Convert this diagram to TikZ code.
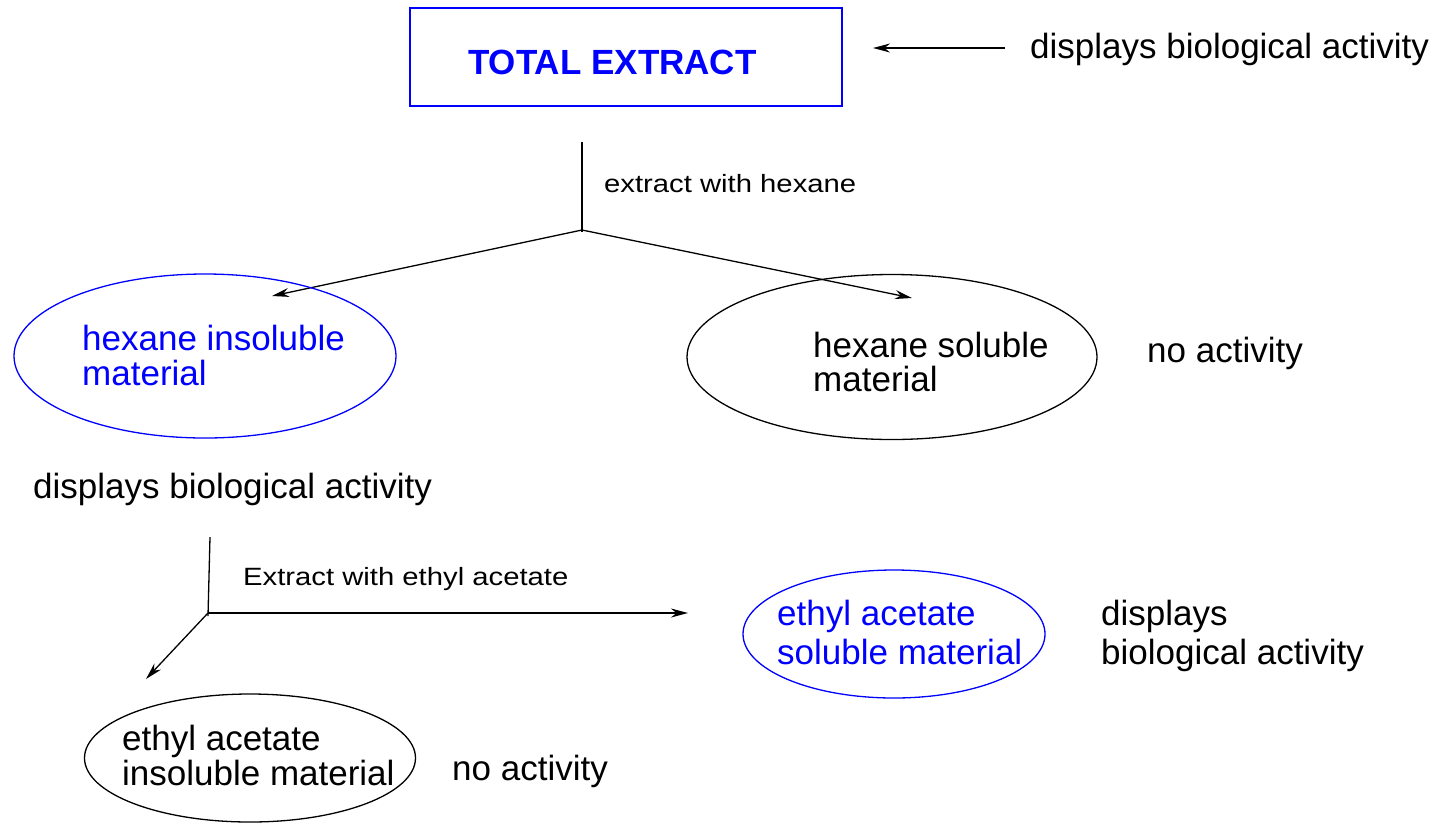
\documentclass[tikz,border=0pt]{standalone}
\usepackage{fontspec}
\setmainfont{Liberation Sans}
\usepackage{graphicx}
\usetikzlibrary{arrows.meta,shapes.geometric}
\begin{document}
\begin{tikzpicture}[x=1pt,y=-1pt,
  txt/.style={font=\fontsize{35}{40}\selectfont, inner sep=0pt, anchor=base west},
  lbl/.style={font=\fontsize{25}{28}\selectfont, inner sep=0pt, anchor=base west},
  conn/.style={line width=1.3pt, draw=black},
  arr/.style={conn, -{Stealth[length=17pt,width=9pt]}},
  ell/.style={ellipse, draw, line width=1.3pt, inner sep=0pt},
  blueell/.style={ell, draw=blue},
]
\useasboundingbox (0,0) rectangle (1439,823);
% top box
\node[draw=blue, line width=2pt, minimum width=432pt, minimum height=98pt, inner sep=0pt] (total) at (626,57) {};
\node[txt, text=blue, font=\fontsize{35}{40}\selectfont\bfseries] (totaltxt) at (468,74) {TOTAL EXTRACT};
\coordinate (toparrstart) at (1005,48);
\coordinate (toparrend) at (873,48);
\draw[arr] (toparrstart) -- (toparrend);
\node[txt] (topact) at (1030,58) {displays biological activity};
% first extraction
\coordinate (v1top) at (582,142);
\coordinate (v1) at (582,232);
\draw[conn] (v1top) -- (v1);
\node[lbl] (hexlbl) at (604,192) {\scalebox{1.17}[1]{extract with hexane}};
\coordinate (hiend) at (272,296);
\coordinate (hsend) at (912,298);
\coordinate (v1j) at (582,230);
\draw[arr] (v1j) -- (hiend);
\draw[arr] (v1j) -- (hsend);
% hexane insoluble
\node[blueell, minimum width=382pt, minimum height=164pt] (hi) at (205,356) {};
\node[txt, text=blue] (hi1) at (82,350) {hexane insoluble};
\node[txt, text=blue] (hi2) at (82,385) {material};
% hexane soluble
\node[ell, minimum width=410pt, minimum height=165pt] (hs) at (892,357) {};
\node[txt] (hs1) at (813,357) {hexane soluble};
\node[txt] (hs2) at (813,391) {material};
\node[txt] (hsact) at (1147,362) {no activity};
\node[txt] (hiact) at (33,498) {displays biological activity};
% second extraction
\coordinate (v2top) at (210,537);
\coordinate (v2bot) at (208,616);
\draw[conn] (v2top) -- (v2bot);
\coordinate (v2) at (208,613);
\coordinate (esend) at (688,613);
\coordinate (eiend) at (146,679);
\draw[arr] (v2) -- (esend);
\draw[arr] (v2) -- (eiend);
\node[lbl] (ealbl) at (243,585) {\scalebox{1.17}[1]{Extract with ethyl acetate}};
% ethyl acetate soluble
\node[blueell, minimum width=302pt, minimum height=128pt] (es) at (894,634) {};
\node[txt, text=blue] (es1) at (777,625) {ethyl acetate};
\node[txt, text=blue] (es2) at (777,664) {soluble material};
\node[txt] (esact1) at (1101,625) {displays};
\node[txt] (esact2) at (1101,664) {biological activity};
% ethyl acetate insoluble
\node[ell, minimum width=331pt, minimum height=128pt] (ei) at (250,758) {};
\node[txt] (ei1) at (122,750) {ethyl acetate};
\node[txt] (ei2) at (122,785) {insoluble material};
\node[txt] (eiact) at (452,780) {no activity};
\end{tikzpicture}
\end{document}
